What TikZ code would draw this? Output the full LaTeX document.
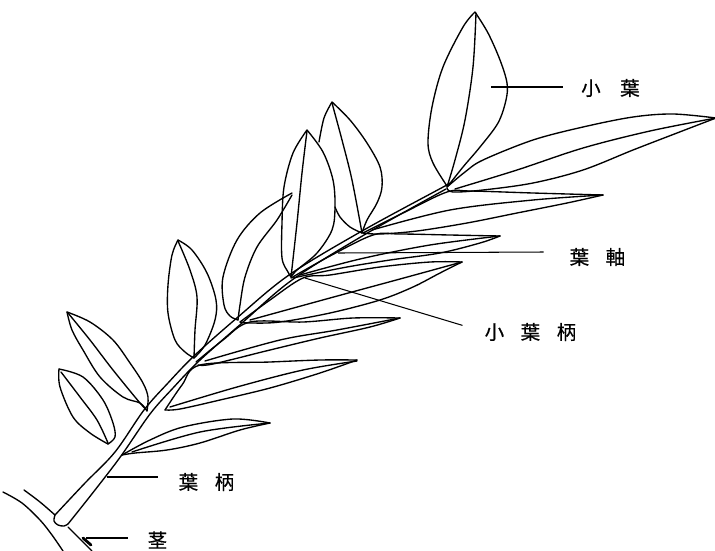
\documentclass[tikz,border=0pt]{standalone}
\usepackage{fontspec}
\newfontfamily\jpfont[FakeBold=0.5]{Noto Sans CJK JP}
\newcommand\leafcurve[1]{\draw[leafline] plot[smooth,tension=0.55] coordinates {#1};}
\begin{document}
\begin{tikzpicture}[x=1pt,y=-1pt,
  leafline/.style={line width=1.35pt, line join=round, line cap=round},
  leadline/.style={line width=1.05pt},
  lbl/.style={anchor=west, inner sep=0pt, font=\jpfont\fontsize{19.5}{22}\selectfont}]
\fill[white] (0,0) rectangle (715,550);
\path[use as bounding box] (0,0) rectangle (715,550);

% ---- stem ----
\leafcurve{(3,492) (22,503) (40,520) (52,535) (63,551)}
\leafcurve{(24,490) (40,502) (55,515)}
\leafcurve{(55,515) (54,521) (58,525) (64,526) (68,524)}
\leafcurve{(68,527) (78,537) (88,547) (92,551)}
\draw[line width=2.8pt, line cap=round] (83,538) -- (91,545);

% ---- petiole and rachis (two edges) ----
\leafcurve{(55,515) (85,483) (115,452) (144,410) (168,383) (195,355) (238,317) (289,275) (362,231) (445,186) (450,183)}
\leafcurve{(68,524) (95,490) (121,456) (150,414) (173,388) (199,361) (242,323) (292,280) (364,235) (446,189)}

% ---- upper leaflets ----
% L1
\leafcurve{(59,369) (60,387) (73,417) (90,433) (108,444)}
\leafcurve{(59,369) (83,377) (103,400) (113,423) (115,437) (108,444)}
\leafcurve{(61,372) (80,397) (97,420) (108,443)}
% L2
\leafcurve{(67,312) (72,330) (83,350) (100,377) (123,397) (140,403) (147,411)}
\leafcurve{(67,312) (90,322) (113,340) (130,363) (143,383) (148,397) (147,411)}
\leafcurve{(68,313) (90,340) (113,370) (140,403) (147,410)}
% L3
\leafcurve{(178,240) (172,255) (168,285) (168,313) (175,340) (185,352) (194,358)}
\leafcurve{(178,240) (192,250) (207,273) (216,300) (215,320) (205,345) (194,358)}
\leafcurve{(178,241) (190,270) (197,297) (195,330) (194,358)}
% L4
\leafcurve{(292,193) (260,213) (237,240) (223,277) (224,305) (230,316) (238,320)}
\leafcurve{(292,195) (277,220) (257,247) (245,277) (240,305) (238,320)}
% L5
\leafcurve{(307,130) (293,153) (284,187) (282,223) (282,258) (288,272) (291,277)}
\leafcurve{(307,130) (323,152) (333,180) (335,207) (332,230) (317,253) (297,270) (291,277)}
\leafcurve{(307,131) (302,173) (297,223) (291,277)}
% L6
\leafcurve{(332,102) (324,118) (319,142)}
\leafcurve{(335,207) (340,217) (350,227) (362,233)}
\leafcurve{(332,102) (350,120) (367,143) (380,167) (382,187) (377,203) (367,220) (362,233)}
\leafcurve{(332,103) (342,140) (352,180) (362,233)}
% L7
\leafcurve{(475,12) (463,27) (443,67) (432,107) (428,143) (433,163) (447,186)}
\leafcurve{(475,12) (488,33) (500,60) (507,83) (506,100) (498,123) (480,147) (463,167) (448,186)}
\leafcurve{(476,13) (473,67) (465,120) (455,160) (447,187)}

% ---- lower leaflets ----
% R1
\leafcurve{(447,187) (465,172) (483,160) (533,140) (583,127) (633,117) (673,114) (716,118)}
\leafcurve{(716,118) (677,133) (633,150) (583,170) (533,183) (483,190) (453,192) (447,188)}
\leafcurve{(455,189) (517,170) (583,148) (650,131) (716,118)}
% R2
\leafcurve{(363,233) (405,212) (447,192) (470,191) (533,193) (603,195)}
\leafcurve{(603,195) (567,203) (517,213) (467,223) (417,231) (380,234) (363,233)}
\leafcurve{(372,230) (450,210) (533,200) (603,195)}
% R3
\leafcurve{(291,278) (330,256) (373,235) (400,234) (450,235) (500,236)}
\leafcurve{(500,236) (480,243) (440,253) (390,260) (347,267) (307,275) (293,278)}
\leafcurve{(300,275) (360,259) (430,245) (500,236)}
% R4
\leafcurve{(240,322) (270,300) (303,278) (330,275) (380,267) (430,262) (462,262)}
\leafcurve{(462,262) (440,273) (413,287) (380,300) (330,313) (280,322) (250,323) (240,322)}
\leafcurve{(250,320) (330,298) (400,279) (462,262)}
% R5
\leafcurve{(196,362) (223,340) (250,322) (303,322) (353,318) (400,318)}
\leafcurve{(400,318) (370,327) (320,338) (270,350) (213,364) (198,365)}
\leafcurve{(205,361) (280,340) (337,330) (400,318)}
% R6
\leafcurve{(165,410) (182,385) (200,365) (270,362) (320,360) (357,360)}
\leafcurve{(357,360) (320,373) (270,388) (220,400) (180,409) (165,410)}
\leafcurve{(170,407) (237,387) (303,370) (357,361)}
% R7
\leafcurve{(122,455) (150,440) (183,427) (233,419) (270,423)}
\leafcurve{(270,423) (240,430) (200,443) (167,450) (135,453) (122,455)}
\leafcurve{(132,452) (200,432) (270,423)}

% ---- labels ----
\coordinate (ptLeaflet) at (491,87);
\coordinate (ptRachis) at (338,253);
\coordinate (ptPetiolule) at (305,278);
\coordinate (ptPetiole) at (107,477);
\coordinate (ptStem) at (86,538);

\node[lbl] (lblLeaflet) at (581,88) {小\hspace{19.5pt}葉};
\node[lbl] (lblRachis) at (569.5,257) {葉\hspace{16.5pt}軸};
\node[lbl] (lblPetiolule) at (484.5,332) {小\hspace{16.5pt}葉\hspace{16.5pt}柄};
\node[lbl] (lblPetiole) at (178.5,482) {葉\hspace{16.5pt}柄};
\node[lbl] (lblStem) at (147.5,540) {茎};

\draw[leadline] (ptLeaflet) -- ([xshift=-18pt,yshift=1pt]lblLeaflet.west);
\draw[leadline] (ptRachis) -- ([xshift=-26pt,yshift=5pt]lblRachis.west);
\draw[leadline, shorten >=23pt] (ptPetiolule) -- (lblPetiolule.west);
\draw[leadline] (ptPetiole) -- ([xshift=-21pt,yshift=5pt]lblPetiole.west);
\draw[leadline] (ptStem) -- ([xshift=-20pt,yshift=2pt]lblStem.west);
\end{tikzpicture}
\end{document}
